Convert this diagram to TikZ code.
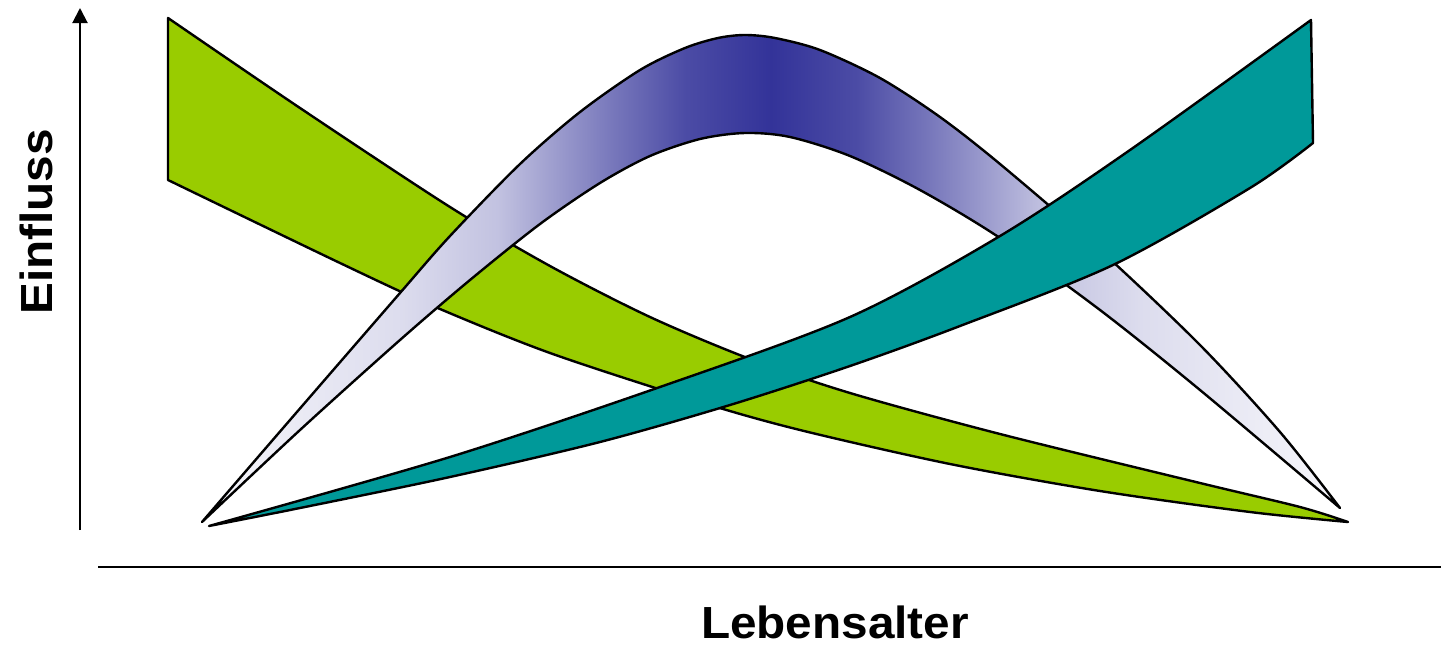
\documentclass[tikz,border=0pt]{standalone}
\usepackage{fontspec}
\setmainfont{Liberation Sans}
\newfontfamily\labelfont{Liberation Sans}[FakeStretch=1.06]
\usetikzlibrary{arrows.meta}
\definecolor{bandgreen}{HTML}{99CC00}
\definecolor{bandteal}{HTML}{009999}
\definecolor{pdark}{HTML}{333399}
\colorlet{puA}{pdark}
\colorlet{puB}{pdark!88!white}
\colorlet{puC}{pdark!68!white}
\colorlet{puD}{pdark!50!white}
\colorlet{puE}{pdark!30!white}
\colorlet{puF}{pdark!17!white}
\colorlet{puG}{pdark!4!white}
\pgfdeclarehorizontalshading{bellshade}{100bp}{color(0bp)=(puG); color(25bp)=(puG); color(33.75bp)=(puF); color(38bp)=(puE); color(40.75bp)=(puD); color(43.25bp)=(puC); color(46.25bp)=(puB); color(50bp)=(puA); color(53.75bp)=(puB); color(56.75bp)=(puC); color(59.25bp)=(puD); color(62bp)=(puE); color(66.25bp)=(puF); color(75bp)=(puG); color(100bp)=(puG)}
\begin{document}
\begin{tikzpicture}[x=1pt,y=-1pt,
  band/.style={draw=black,line width=2.4pt,line join=round},
  axisline/.style={draw=black,line width=2pt},
  axislabel/.style={font=\labelfont\bfseries\fontsize{45}{54}\selectfont,inner sep=0pt,anchor=base}]
\useasboundingbox (0,0) rectangle (1441,648);
% green band
\path[band,fill=bandgreen] (168,180) -- plot[smooth] coordinates {(168,18) (300,108) (450,207) (550,266) (650,317) (750,359) (850,393) (1000,434) (1200,483) (1300,507) (1348,522)}
  -- plot[smooth] coordinates {(1348,522) (1250,512) (1100,491) (950,464) (800,430) (700,402) (550,353) (433,306) (340,263) (168,180)} -- cycle;
% purple bell band
\path[band,shading=bellshade] plot[smooth] coordinates {(202,522) (290,420) (400,293) (450,236) (520,164) (580,112) (640,70) (685,48) (718,38) (745,35) (775,38) (820,50) (880,78) (940,117) (1000,164) (1100,250) (1200,345) (1280,432) (1340,508)}
  -- plot[smooth] coordinates {(1340,508) (1200,390) (1100,310) (1000,238) (920,190) (850,156) (790,137) (745,133) (700,139) (650,156) (600,183) (540,224) (470,280) (400,340) (300,430) (202,522)} -- cycle;
% teal band
\path[band,fill=bandteal] plot[smooth] coordinates {(209,526) (450,457) (660,387) (850,317) (1000,236) (1130,150) (1311,20)}
  -- plot[smooth] coordinates {(1313,143) (1250,188) (1113,265) (960,326) (850,366) (730,405) (600,442) (450,477) (300,508) (209,526)} -- cycle;
% axes
\coordinate (ybase) at (80,530);
\coordinate (ytop) at (80,8);
\coordinate (xleft) at (98,567);
\coordinate (xright) at (1441,567);
\draw[axisline,-{Triangle[width=15pt,length=15pt]}] (ybase) -- (ytop);
\draw[axisline] (xleft) -- (xright);
\node[axislabel,rotate=90] (ylabel) at (52,222) {Einfluss};
\node[axislabel] (xlabel) at (835,638) {Lebensalter};
\end{tikzpicture}
\end{document}
